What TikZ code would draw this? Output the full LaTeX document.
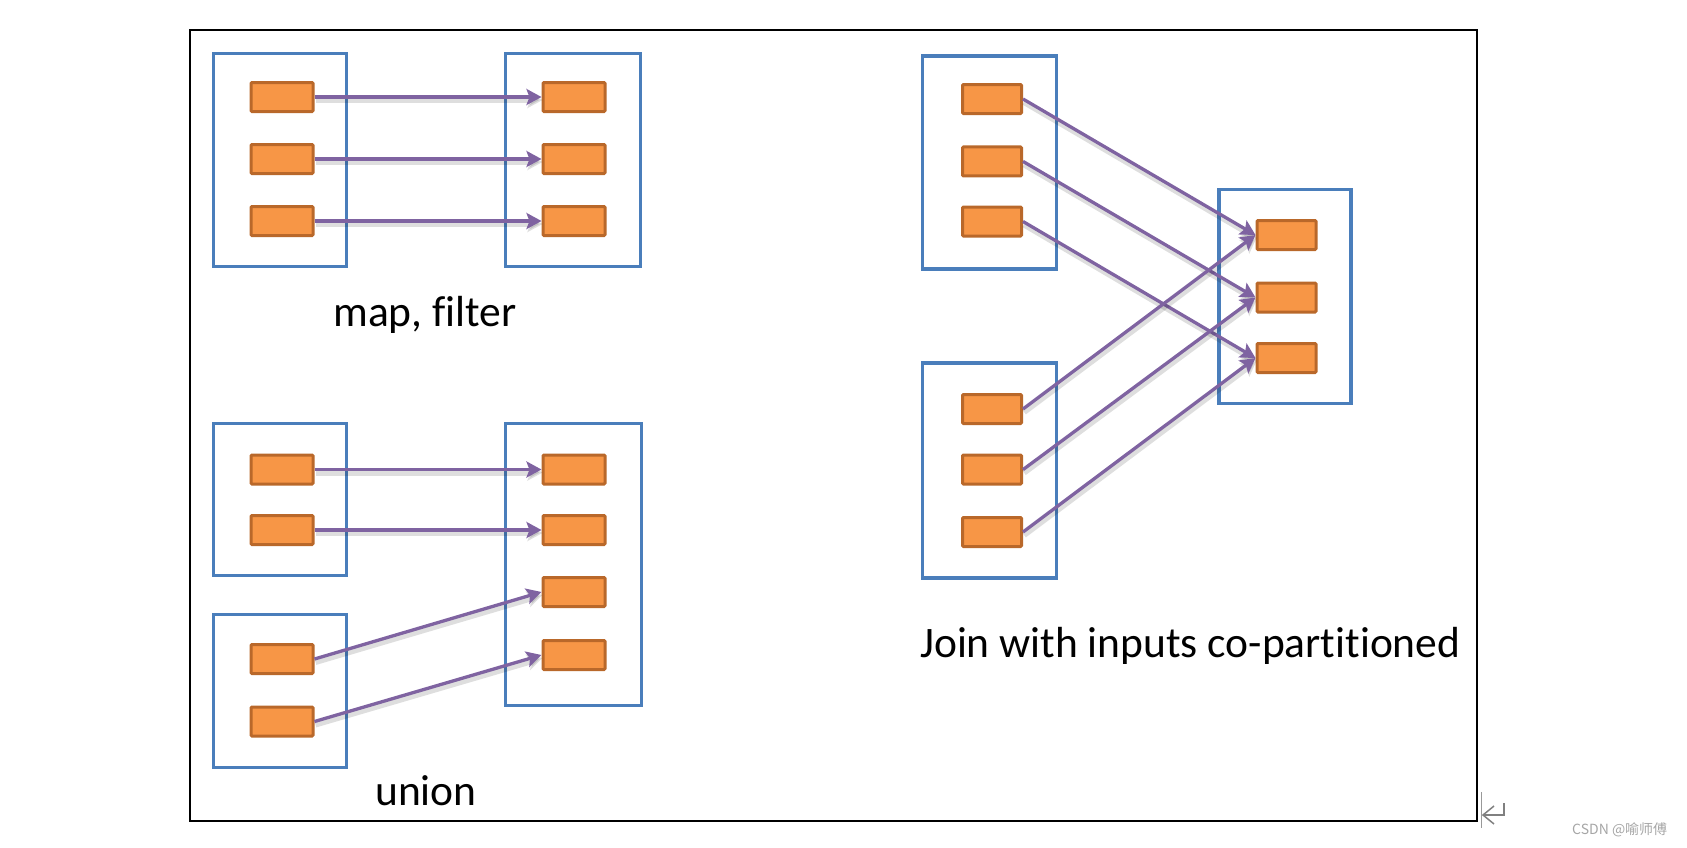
\documentclass[tikz,border=0pt]{standalone}
\usepackage{fontspec}
\setmainfont[Ligatures={NoCommon,NoContextual},RawFeature={-liga;-clig;-dlig}]{Carlito}
\newfontfamily\cjk{Noto Sans CJK SC}
\usetikzlibrary{arrows.meta}
\definecolor{boxblue}{HTML}{4A7EBB}
\definecolor{partorange}{HTML}{F79646}
\definecolor{partedge}{HTML}{B9682A}
\definecolor{flowpurple}{HTML}{7F63A1}
\tikzset{
	rdd/.style={draw=boxblue,line width=3.5pt,inner sep=0pt},
	part/.style={draw=partedge,fill=partorange,line width=3pt,inner sep=0pt,minimum width=62pt,minimum height=29pt,rounded corners=1pt},
	jpart/.style={part,minimum width=59pt,minimum height=29pt},
	flow/.style={draw=flowpurple,line width=3.3pt,-{Stealth[length=15pt,width=16pt,inset=3pt]},
		preaction={draw=black,opacity=.13,line width=6pt,transform canvas={shift={(1pt,-3pt)}}}},
	caption/.style={anchor=base,inner sep=0pt,font=\fontsize{43.5}{50}\selectfont}
}

\begin{document}
\begin{tikzpicture}[x=1pt,y=-1pt]
	\useasboundingbox (0,0) rectangle (1687,847);
	\node[draw,line width=2pt,inner sep=0pt,minimum width=1287pt,minimum height=791pt] (frame) at (833.5,425.5){};

	\node[rdd,minimum width=133pt,minimum height=213pt] (ml) at (280,160){};
	\node[rdd,minimum width=135pt,minimum height=213pt] (mr) at (573,160){};
	\node[part] (ml1) at (282,97){};
	\node[part] (ml2) at (282,159){};
	\node[part] (ml3) at (282,221){};
	\node[part] (mr1) at (574,97){};
	\node[part] (mr2) at (574,159){};
	\node[part] (mr3) at (574,221){};
	\draw[flow] (ml1) -- (mr1);
	\draw[flow] (ml2) -- (mr2);
	\draw[flow] (ml3) -- (mr3);
	\node[caption] (mapcap) at (425,326){map, f\kern0pt ilter};

	\node[rdd,minimum width=133pt,minimum height=152pt] (ua) at (280,499.5){};
	\node[rdd,minimum width=133pt,minimum height=153pt] (ub) at (280,691){};
	\node[rdd,minimum width=136pt,minimum height=282pt] (ur) at (573.5,564.5){};
	\node[part] (ua1) at (282,469.5){};
	\node[part] (ua2) at (282,530){};
	\node[part] (ub1) at (282,659){};
	\node[part] (ub2) at (282,721.5){};
	\node[part] (ur1) at (574,469.5){};
	\node[part] (ur2) at (574,530){};
	\node[part] (ur3) at (574,592){};
	\node[part] (ur4) at (574,655){};
	\draw[flow] (ua1) -- (ur1);
	\draw[flow] (ua2) -- (ur2);
	\draw[flow] (ub1.east) -- (ur3.west);
	\draw[flow] (ub2.east) -- (ur4.west);
	\node[caption] (unioncap) at (426,805){union};

	\node[rdd,minimum width=134pt,minimum height=213pt] (ja) at (989.5,162.4){};
	\node[rdd,minimum width=134pt,minimum height=215pt] (jb) at (989.5,470.4){};
	\node[rdd,minimum width=132pt,minimum height=214pt] (jr) at (1285,296.3){};
	\node[jpart] (ja1) at (992,99){};
	\node[jpart] (ja2) at (992,161.4){};
	\node[jpart] (ja3) at (992,221.5){};
	\node[jpart] (jb1) at (992,409){};
	\node[jpart] (jb2) at (992,469.6){};
	\node[jpart] (jb3) at (992,532){};
	\node[jpart] (jr1) at (1286.5,235){};
	\node[jpart] (jr2) at (1286.5,297.5){};
	\node[jpart] (jr3) at (1286.5,358){};
	\draw[flow] (ja1.east) -- (jr1.west);
	\draw[flow] (ja2.east) -- (jr2.west);
	\draw[flow] (ja3.east) -- (jr3.west);
	\draw[flow] (jb1.east) -- (jr1.west);
	\draw[flow] (jb2.east) -- (jr2.west);
	\draw[flow] (jb3.east) -- (jr3.west);
	\node[caption,anchor=base west] (joincap) at (920,657){Join with inputs co-part\kern0pt it\kern0pt ioned};

	\draw[gray!80,line width=1pt] (1481,792) -- (1481,828);
	\draw[gray,line width=1.5pt] (1504,803) -- (1504,815) -- (1483,815);
	\draw[gray,line width=1.5pt] (1494,806) -- (1483,815) -- (1494,824);
	\node[anchor=west,inner sep=0pt,text=gray!70,font=\cjk\fontsize{14}{16}\selectfont] (mark) at (1572,830){CSDN @喻师傅};
\end{tikzpicture}
\end{document}
